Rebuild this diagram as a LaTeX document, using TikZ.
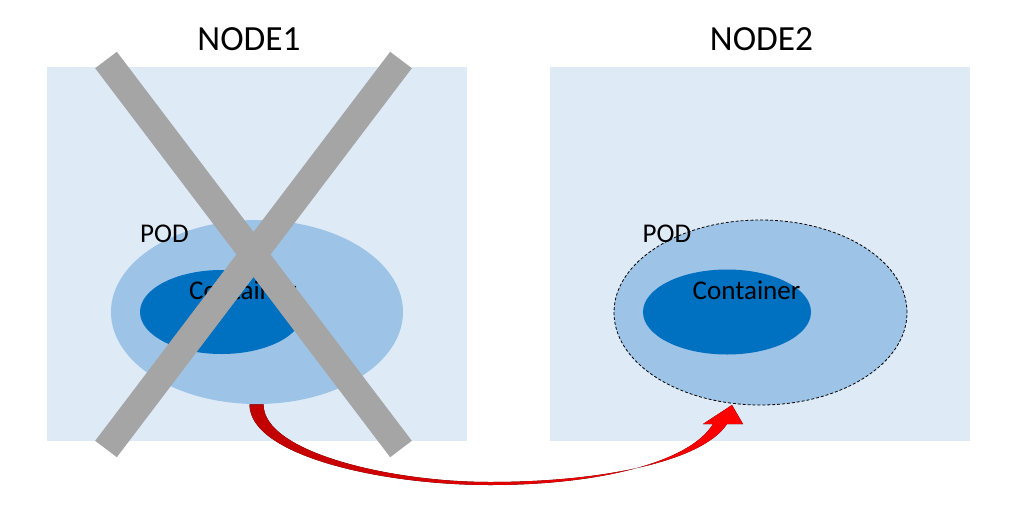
\documentclass[tikz,border=0pt]{standalone}
\usepackage{fontspec}
\setmainfont{Carlito}
\usetikzlibrary{shapes.geometric}
\definecolor{boxbg}{HTML}{DEEBF7}
\definecolor{podfill}{HTML}{9DC3E6}
\definecolor{contfill}{HTML}{0070C0}
\definecolor{crossgray}{HTML}{A5A5A5}
\definecolor{darkred}{HTML}{C00000}
\definecolor{brightred}{HTML}{FF0000}
\tikzset{
  nodebox/.style={fill=boxbg, draw=none, minimum width=315pt, minimum height=280.5pt, inner sep=0pt},
  podshape/.style={ellipse, fill=podfill, draw=none, inner sep=0pt},
  contshape/.style={ellipse, fill=contfill, draw=none, inner sep=0pt},
  titletext/.style={font=\fontsize{26.5}{31}\selectfont, anchor=base, inner sep=0pt},
  labeltext/.style={font=\fontsize{20.3}{24}\selectfont, anchor=base, inner sep=0pt},
  crossbar/.style={draw=crossgray, line width=20.4pt, line cap=butt},
  poddashed/.style={draw=black, line width=0.6pt, dash pattern=on 2.2pt off 1.5pt}
}
\begin{document}
\begin{tikzpicture}[x=0.75pt,y=-0.75pt]
\useasboundingbox (0,0) rectangle (1018,508);
% boxes
\node[nodebox] (box1) at (257,254) {};
\node[nodebox] (box2) at (760,254) {};
% titles
\node[titletext] (t1) at (249,50) {NODE1};
\node[titletext] (t2) at (761.5,50) {NODE2};
% left pod
\node[podshape, minimum width=219pt, minimum height=138pt] (pod1) at (257,312) {};
\node[contshape, minimum width=122.25pt, minimum height=63pt] (cont1) at (221.5,312) {};
\node[labeltext] (podl1) at (164.5,242) {POD};
\node[labeltext] (contl1) at (243,299) {Container};
% right pod
\node[podshape, poddashed, minimum width=219.75pt, minimum height=138.75pt] (pod2) at (760.5,312.5) {};
\node[contshape, minimum width=126pt, minimum height=63.75pt] (cont2) at (727,312) {};
\node[labeltext] (podl2) at (667,242) {POD};
\node[labeltext] (contl2) at (746.5,299) {Container};
% cross
\coordinate (xa1) at (106,60);
\coordinate (xa2) at (401,449);
\coordinate (xb1) at (401,60);
\coordinate (xb2) at (106,449);
\draw[crossbar] (xa1) -- (xa2);
\draw[crossbar] (xb1) -- (xb2);
% curved arrow
\coordinate (tip) at (732,405);
\fill[left color=darkred, right color=brightred]
  ([xshift=-5.6pt]pod1.south) .. controls (249,455) and (380,485) .. (490,485)
  .. controls (600,485) and (690,462) .. (713,424)
  -- (703,424) -- (tip) -- (743,424) -- (727,424)
  .. controls (702,462) and (600,482) .. (490,482)
  .. controls (390,482) and (263,452) .. ([xshift=4.9pt]pod1.south) -- cycle;
\end{tikzpicture}
\end{document}
